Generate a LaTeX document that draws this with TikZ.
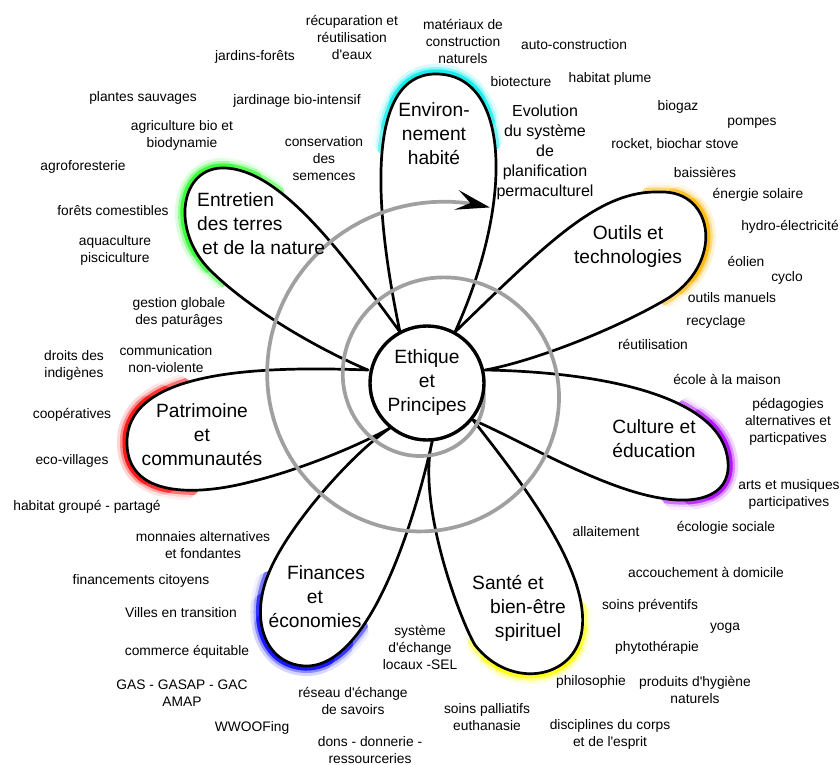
\documentclass[tikz,border=0pt]{standalone}
\usepackage{fontspec}
\setmainfont{Liberation Sans}[Ligatures=TeXOff]
\usepackage{xcolor}
\usepackage{tikz}
\usetikzlibrary{arrows.meta}
\definecolor{spiralgray}{RGB}{160, 160, 160}
\definecolor{glowgreen}{RGB}{40, 255, 40}
\definecolor{glowcyan}{RGB}{0, 235, 235}
\definecolor{gloworange}{RGB}{255, 180, 0}
\definecolor{glowpurple}{RGB}{170, 0, 255}
\definecolor{glowyellow}{RGB}{255, 255, 0}
\definecolor{glowblue}{RGB}{0, 0, 255}
\definecolor{glowred}{RGB}{255, 0, 0}

\begin{document}
\begin{tikzpicture}[
    x=1pt, y=-1pt,
    ethique/.style={circle, draw=black, line width=3.4pt, fill=white, minimum size=114pt, inner sep=0pt, align=center, font=\fontsize{19.2}{24}\selectfont},
    theme/.style={align=center, inner sep=0pt, font=\fontsize{19.2}{24}\selectfont},
    plan/.style={align=center, inner sep=0pt, font=\fontsize{16}{20}\selectfont},
    item/.style={align=center, inner sep=0pt, font=\fontsize{13.8}{17}\selectfont},
    petal/.style={draw=black, line width=2.7pt, line cap=round, line join=round},
    glow/.style={draw=#1, line width=9pt, draw opacity=0.45, line join=round,
        preaction={draw=#1, line width=20pt, draw opacity=0.06},
        preaction={draw=#1, line width=14pt, draw opacity=0.13}},
    spiral/.style={draw=spiralgray, line width=3.7pt, -{Stealth[length=34pt, width=20pt, inset=14pt, color=black]}}
]
    \useasboundingbox (0,0) rectangle (840,765);

    % Base points on the central circle
    \coordinate (b1) at (400,332);
    \coordinate (b2) at (455,332);
    \coordinate (b3) at (485,370);
    \coordinate (b4) at (473,420);
    \coordinate (b5) at (433,438);
    \coordinate (b6) at (390,428);
    \coordinate (b7) at (368,370);

    % Petal outlines
    \def\petalterre{(b7) .. controls (320,350) and (250,310) .. (210,270) .. controls (170,230) and (180,166) .. (225,168) .. controls (280,170) and (340,250) .. (b1)}
    \def\petalhabitat{(b1) .. controls (372,200) and (368,75) .. (435,74) .. controls (510,73) and (515,200) .. (b2)}
    \def\petaloutils{(b2) .. controls (550,240) and (600,190) .. (660,192) .. controls (715,190) and (725,265) .. (665,300) .. controls (610,332) and (530,362) .. (b3)}
    \def\petalculture{(b3) .. controls (600,372) and (715,395) .. (727,455) .. controls (735,495) and (700,505) .. (660,498) .. controls (600,488) and (520,440) .. (b4)}
    \def\petalsante{(b4) .. controls (520,480) and (590,570) .. (582,630) .. controls (575,680) and (510,690) .. (475,645) .. controls (460,620) and (415,500) .. (b5)}
    \def\petalfinance{(b5) .. controls (415,520) and (370,668) .. (305,666) .. controls (265,664) and (250,620) .. (268,575) .. controls (285,530) and (350,455) .. (b6)}
    \def\petalpatri{(b6) .. controls (360,445) and (300,470) .. (250,482) .. controls (200,495) and (125,500) .. (127,440) .. controls (130,370) and (260,366) .. (b7)}

    % Glow on the tips, fading out towards the sides
    \begin{scope}
        \clip (200,205) circle (85); \draw[glow=glowgreen] \petalterre;
        \clip (200,205) circle (68); \draw[glow=glowgreen] \petalterre;
        \clip (200,205) circle (52); \draw[glow=glowgreen] \petalterre;
    \end{scope}
    \begin{scope}
        \clip (437,100) circle (78); \draw[glow=glowcyan] \petalhabitat;
        \clip (437,100) circle (62); \draw[glow=glowcyan] \petalhabitat;
        \clip (437,100) circle (48); \draw[glow=glowcyan] \petalhabitat;
    \end{scope}
    \begin{scope}
        \clip (695,240) circle (72); \draw[glow=gloworange] \petaloutils;
        \clip (695,240) circle (56); \draw[glow=gloworange] \petaloutils;
        \clip (695,240) circle (42); \draw[glow=gloworange] \petaloutils;
    \end{scope}
    \begin{scope}
        \clip (722,460) circle (72); \draw[glow=glowpurple] \petalculture;
        \clip (722,460) circle (56); \draw[glow=glowpurple] \petalculture;
        \clip (722,460) circle (42); \draw[glow=glowpurple] \petalculture;
    \end{scope}
    \begin{scope}
        \clip (540,665) circle (76); \draw[glow=glowyellow] \petalsante;
        \clip (540,665) circle (60); \draw[glow=glowyellow] \petalsante;
        \clip (540,665) circle (45); \draw[glow=glowyellow] \petalsante;
    \end{scope}
    \begin{scope}
        \clip (295,640) circle (74); \draw[glow=glowblue] \petalfinance;
        \clip (295,640) circle (58); \draw[glow=glowblue] \petalfinance;
        \clip (295,640) circle (44); \draw[glow=glowblue] \petalfinance;
    \end{scope}
    \begin{scope}
        \clip (145,440) circle (74); \draw[glow=glowred] \petalpatri;
        \clip (145,440) circle (58); \draw[glow=glowred] \petalpatri;
        \clip (145,440) circle (44); \draw[glow=glowred] \petalpatri;
    \end{scope}

    % Petals
    \fill[white] \petalterre \petalhabitat \petaloutils \petalculture \petalsante \petalfinance \petalpatri;
    \draw[petal] \petalterre \petalhabitat \petaloutils \petalculture \petalsante \petalfinance \petalpatri;

    % Evolution spiral
    \draw[spiral] plot[domain=0:648, samples=217, variable=\t] ({432+(50.5+0.211*\t)*cos(\t)}, {385.5+(50.5+0.211*\t)*sin(\t)});

    % Centre
    \node[ethique] (ethique) at (427,383) {Ethique\\et\\Principes};

    % Themes
    \node[theme, anchor=west, align=left] (entretien) at (197,224) {Entretien\\des terres\\\hspace*{5pt}et de la nature};
    \node[theme] (habitat) at (434,134) {Environ-\\nement\\habité};
    \node[theme] (outils) at (628,247) {Outils et\\technologies};
    \node[theme] (culture) at (654,439) {Culture et\\éducation};
    \node[theme] (sante) at (528,608) {Santé et\hspace*{40pt}\\bien-être\\spirituel};
    \node[theme] (finances) at (315,597) {\hspace*{22pt}Finances\\et\\économies};
    \node[theme] (patrimoine) at (202,435) {Patrimoine\\et\\communautés};
    \node[plan] (evolution) at (545,152) {Evolution\\du système\\de\\planification\\permaculturel};

    % Entretien des terres et de la nature
    \node[item] (recup) at (352,37) {récuparation et\\réutilisation\\d'eaux};
    \node[item] (jardins) at (255,57) {jardins-forêts};
    \node[item] (plantes) at (143,98) {plantes sauvages};
    \node[item] (biointensif) at (297,101) {jardinage bio-intensif};
    \node[item] (agribio) at (182,135) {agriculture bio et\\biodynamie};
    \node[item] (semences) at (324,159) {conservation\\des\\semences};
    \node[item] (agrofor) at (83,167) {agroforesterie};
    \node[item] (forets) at (113,211) {forêts comestibles};
    \node[item] (aqua) at (115,250) {aquaculture\\pisciculture};
    \node[item] (paturages) at (179,312) {gestion globale\\des paturâges};

    % Environnement habite
    \node[item] (materiaux) at (463,41) {matériaux de\\construction\\naturels};
    \node[item] (autocons) at (574,45) {auto-construction};
    \node[item] (biotecture) at (521,82) {biotecture};
    \node[item] (plume) at (610,79) {habitat plume};

    % Outils et technologies
    \node[item] (biogaz) at (678,107) {biogaz};
    \node[item] (pompes) at (752,123) {pompes};
    \node[item] (rocket) at (675,144) {rocket, biochar stove};
    \node[item] (baissieres) at (705,172) {baissières};
    \node[item] (solaire) at (758,195) {énergie solaire};
    \node[item] (hydro) at (790,227) {hydro-électricité};
    \node[item] (eolien) at (746,261) {éolien};
    \node[item] (cyclo) at (787,278) {cyclo};
    \node[item] (manuels) at (732,298) {outils manuels};
    \node[item] (recyclage) at (716,322) {recyclage};
    \node[item] (reutil) at (653,344) {réutilisation};

    % Culture et education
    \node[item] (ecole) at (727,379) {école à la maison};
    \node[item] (pedago) at (788,422) {pédagogies\\alternatives et\\particpatives};
    \node[item] (arts) at (789,494) {arts et musiques\\participatives};
    \node[item] (ecosoc) at (726,528) {écologie sociale};

    % Sante et bien-etre spirituel
    \node[item] (allaitement) at (606,532) {allaitement};
    \node[item] (accouchement) at (706,572) {accouchement à domicile};
    \node[item] (preventifs) at (650,606) {soins préventifs};
    \node[item] (yoga) at (725,628) {yoga};
    \node[item] (phyto) at (657,648) {phytothérapie};
    \node[item] (philo) at (591,682) {philosophie};
    \node[item] (hygiene) at (695,690) {produits d'hygiène\\naturels};
    \node[item] (palliatifs) at (487,717) {soins palliatifs\\euthanasie};
    \node[item] (disciplines) at (610,734) {disciplines du corps\\et de l'esprit};

    % Finances et economies
    \node[item] (sel) at (420,647) {système\\d'échange\\locaux -SEL};
    \node[item] (monnaies) at (203,545) {monnaies alternatives\\et fondantes};
    \node[item] (financements) at (141,581) {financements citoyens};
    \node[item] (villes) at (181,613) {Villes en transition};
    \node[item] (commerce) at (187,652) {commerce équitable};
    \node[item] (gas) at (182,693) {GAS - GASAP - GAC\\AMAP};
    \node[item] (savoirs) at (353,701) {réseau d'échange\\de savoirs};
    \node[item] (wwoof) at (252,728) {WWOOFing};
    \node[item] (dons) at (370,750) {dons - donnerie -\\ressourceries};

    % Patrimoine et communautes
    \node[item] (droits) at (74,365) {droits des\\indigènes};
    \node[item] (cnv) at (166,359) {communication\\non-violente};
    \node[item] (coop) at (72,415) {coopératives};
    \node[item] (ecovillages) at (72,461) {eco-villages};
    \node[item] (groupe) at (87,507) {habitat groupé - partagé};

\end{tikzpicture}
\end{document}
